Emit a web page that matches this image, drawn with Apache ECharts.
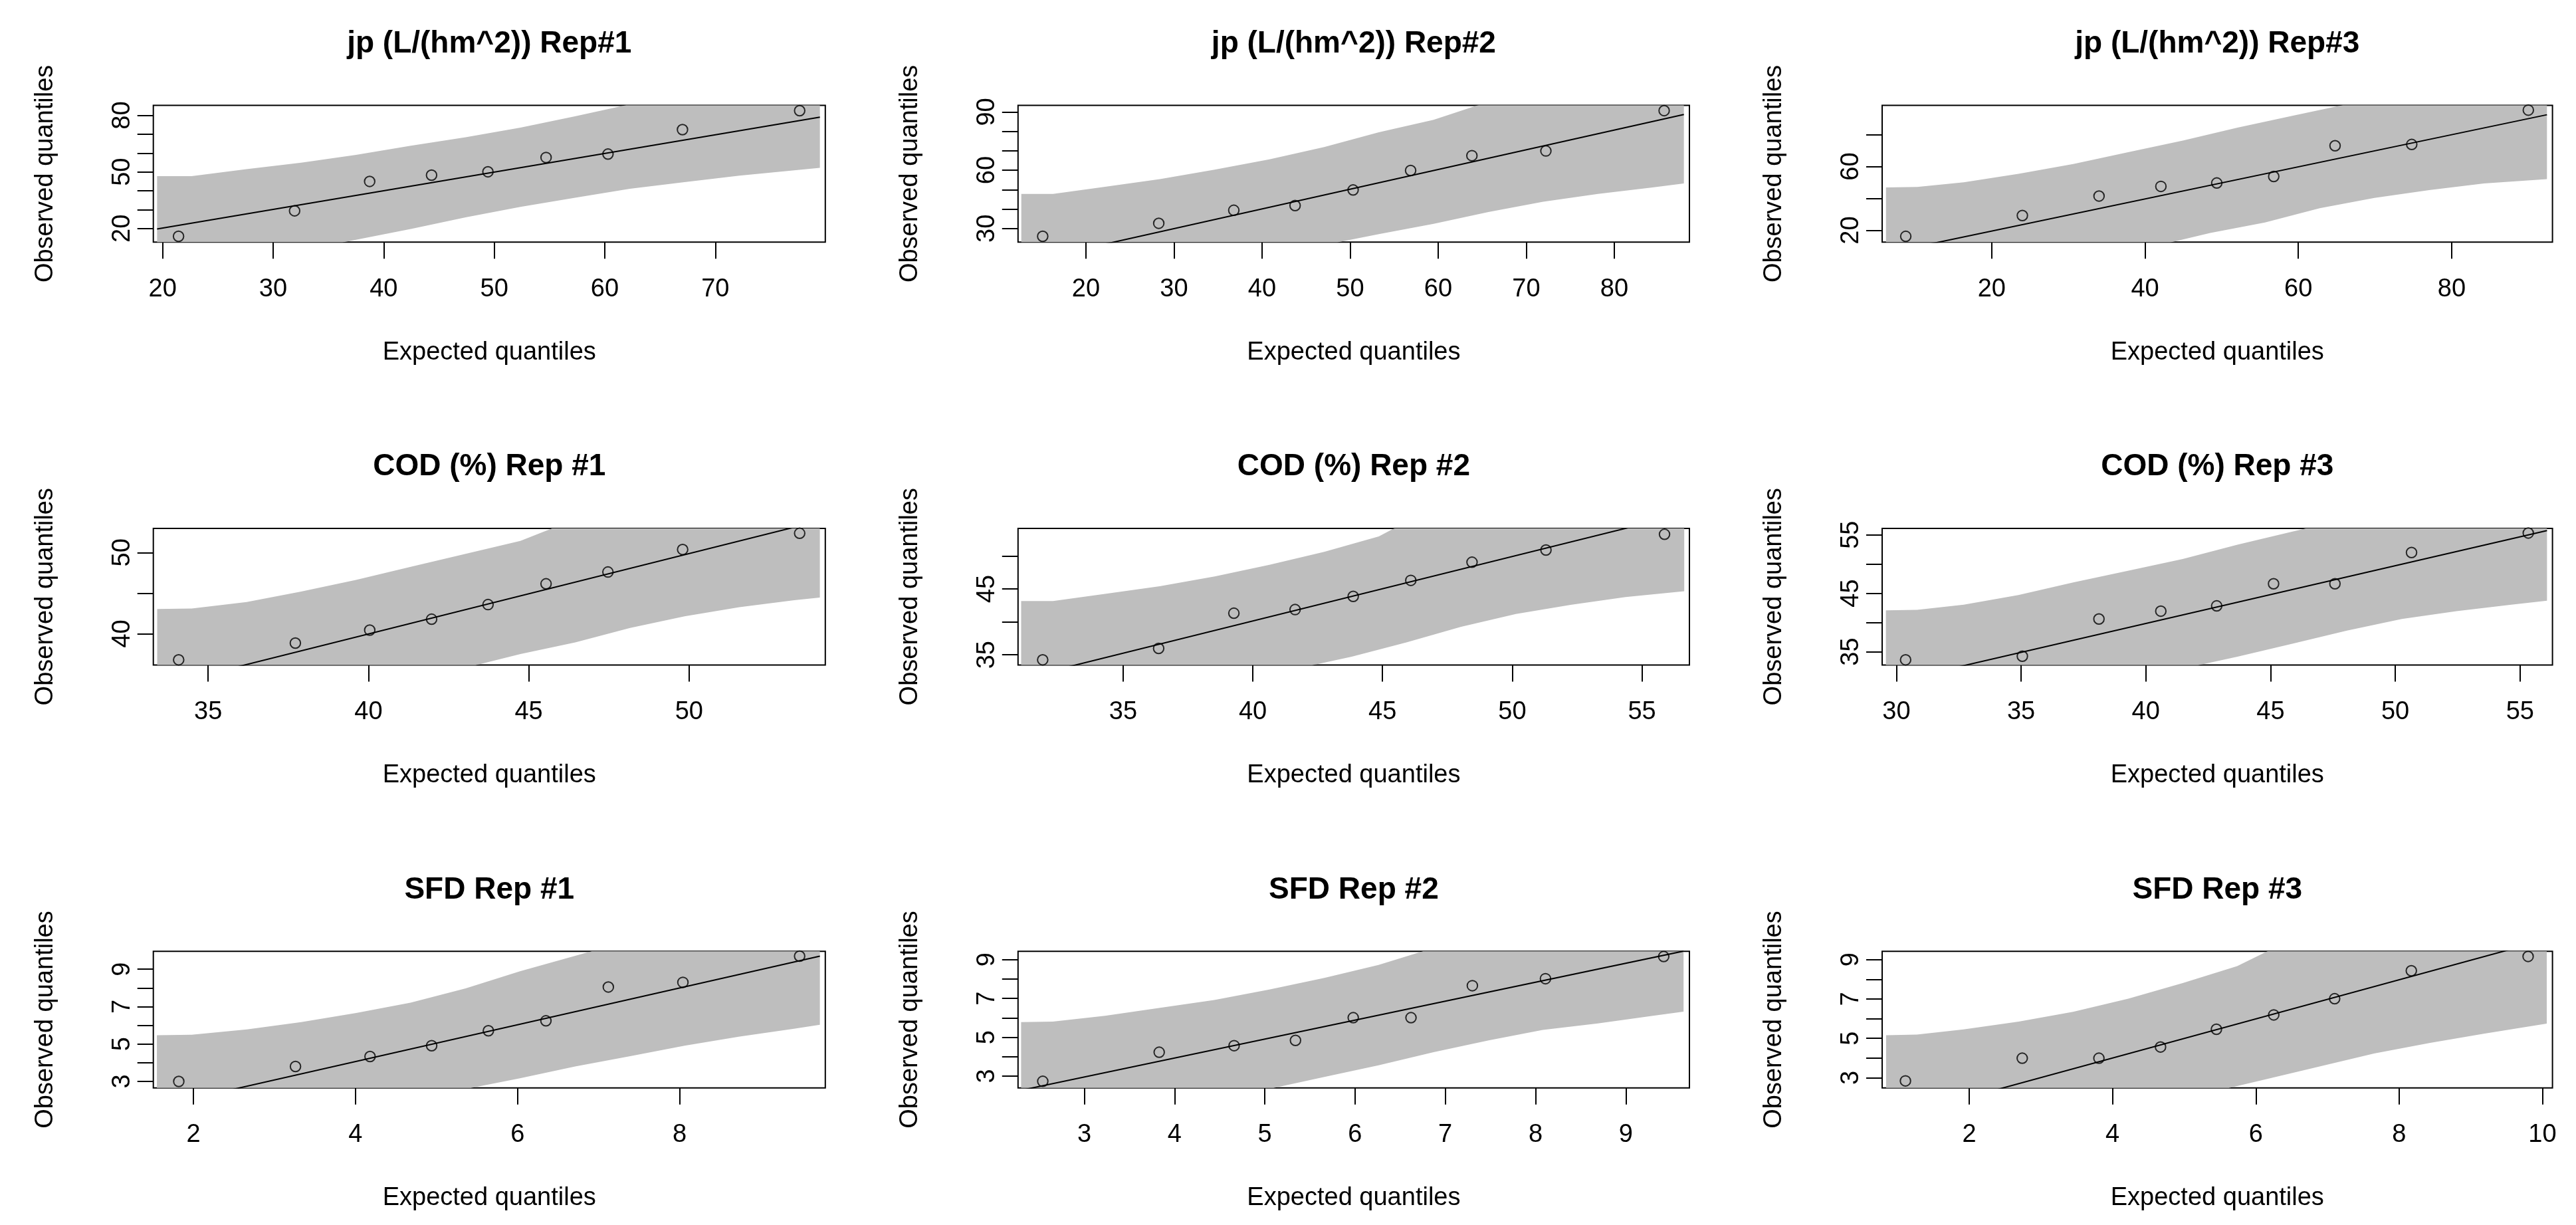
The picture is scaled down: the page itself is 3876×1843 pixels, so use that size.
<!DOCTYPE html>
<html>
<head>
<meta charset="utf-8">
<script src="https://cdn.jsdelivr.net/npm/echarts@6/dist/echarts.min.js"></script>
<style>
html,body{margin:0;padding:0;background:#ffffff;}
#chart{width:3876px;height:1843px;}
</style>
</head>
<body>
<div id="chart"></div>
<script>
// ---------------- DATA ----------------
const titles = [
  "jp (L/(hm^2)) Rep#1", "jp (L/(hm^2)) Rep#2", "jp (L/(hm^2)) Rep#3",
  "COD (%) Rep #1", "COD (%) Rep #2", "COD (%) Rep #3",
  "SFD Rep #1", "SFD Rep #2", "SFD Rep #3"
];
const xAxisTitle = "Expected quantiles";
const yAxisTitle = "Observed quantiles";

// expected quantiles (x) per panel
const expected = [
  [21.44, 31.94, 38.73, 44.33, 49.43, 54.69, 60.29, 67.03, 77.63],
  [15.09, 28.27, 36.79, 43.75, 50.34, 56.87, 63.83, 72.23, 85.66],
  [8.79, 24.0, 34.0, 42.07, 49.36, 56.79, 64.79, 74.79, 90.0],
  [34.08, 37.72, 40.04, 41.97, 43.73, 45.54, 47.47, 49.8, 53.45],
  [31.9, 36.37, 39.27, 41.63, 43.87, 46.09, 48.45, 51.3, 55.87],
  [30.37, 35.05, 38.12, 40.6, 42.84, 45.12, 47.58, 50.65, 55.33],
  [1.82, 3.26, 4.18, 4.94, 5.64, 6.35, 7.12, 8.04, 9.48],
  [2.54, 3.83, 4.66, 5.34, 5.98, 6.62, 7.3, 8.11, 9.42],
  [1.11, 2.74, 3.81, 4.67, 5.45, 6.25, 7.1, 8.17, 9.8]
];
// observed quantiles (y) per panel
const observed = [
  [15.86, 29.38, 44.97, 48.28, 50.07, 57.66, 59.45, 72.41, 82.48],
  [25.98, 32.68, 39.37, 41.79, 49.82, 59.86, 67.5, 69.91, 90.67],
  [16.25, 29.29, 41.52, 47.56, 49.67, 53.75, 72.99, 73.81, 95.33],
  [36.79, 38.85, 40.45, 41.79, 43.59, 46.15, 47.6, 50.38, 52.37],
  [34.25, 35.98, 41.31, 41.86, 43.86, 46.29, 49.04, 50.88, 53.27],
  [33.62, 34.24, 40.61, 41.95, 42.84, 46.63, 46.63, 51.97, 55.31],
  [3.0, 3.8, 4.33, 4.91, 5.71, 6.24, 8.05, 8.3, 9.7],
  [2.73, 4.23, 4.57, 4.84, 6.01, 6.01, 7.66, 8.02, 9.16],
  [2.84, 3.99, 3.99, 4.56, 5.46, 6.19, 7.01, 8.43, 9.16]
];
// reference line end points [x0, x1] and [y0, y1]
const refLineX = [
  [19.5, 79.46], [12.66, 87.9], [6.21, 92.43],
  [33.41, 54.08], [31.07, 56.63], [29.58, 56.08],
  [1.55, 9.73], [2.3, 9.64], [0.84, 10.06]
];
const refLineY = [
  [19.72, 79.03], [12.32, 88.68], [5.69, 92.42],
  [33.45, 53.91], [31.41, 56.38], [29.54, 55.72],
  [1.65, 9.7], [2.27, 9.44], [0.86, 10.02]
];
// confidence envelope: upper edge (left to right) and lower edge (left to right)
const bandUpper = [
  [[19.5,47.72],[22.63,47.72],[27.58,51.45],[32.54,54.9],[37.5,59.03],[42.45,63.86],[47.41,68.41],[52.37,73.52],[57.3,79.45],[61.77,85.24],[79.46,107]],
  [[12.66,47.81],[16.27,47.81],[22.18,51.43],[28.39,55.44],[34.61,60.27],[40.83,65.62],[47.05,71.92],[53.26,79.55],[59.48,85.98],[64.46,93.35],[87.9,124]],
  [[6.21,46.9],[10.29,47.23],[16.36,50.16],[23.5,55.38],[30.64,61.58],[37.79,68.92],[44.93,76.25],[52.07,84.4],[59.21,91.74],[65.64,98.26],[92.43,133]],
  [[33.41,43.04],[34.49,43.11],[36.2,43.91],[37.9,45.19],[39.61,46.63],[41.32,48.24],[43.03,49.84],[44.74,51.44],[45.73,52.98],[54.08,63.5]],
  [[31.07,43.16],[32.3,43.16],[34.3,44.25],[36.41,45.39],[38.53,46.88],[40.64,48.65],[42.75,50.61],[44.86,52.96],[45.39,54.06],[56.63,68.1]],
  [[29.58,42.08],[30.83,42.17],[32.7,43.06],[34.89,44.71],[37.09,46.85],[39.28,48.85],[41.48,50.86],[43.67,53.31],[46.42,56.11],[56.08,68.2]],
  [[1.55,5.47],[1.98,5.5],[2.66,5.78],[3.33,6.17],[4.01,6.66],[4.68,7.21],[5.36,7.98],[6.03,8.89],[6.91,9.96],[9.73,13.5]],
  [[2.3,5.78],[2.65,5.81],[3.23,6.11],[3.84,6.52],[4.44,6.92],[5.05,7.46],[5.66,8.06],[6.26,8.73],[6.75,9.43],[9.64,12.9]],
  [[0.84,5.16],[1.27,5.19],[1.92,5.45],[2.69,5.85],[3.45,6.35],[4.22,7.01],[4.98,7.81],[5.74,8.67],[6.16,9.42],[10.06,14.3]]
];
const bandLower = [
  [[19.5,-8],[36.5,12.83],[42.45,19.72],[47.41,25.93],[52.37,31.45],[57.31,36.28],[62.27,41.1],[67.22,44.55],[72.18,48.0],[79.46,52.14]],
  [[12.66,-23],[48.79,23.04],[53.26,27.05],[59.48,32.41],[65.7,38.44],[71.92,43.79],[78.14,47.81],[84.35,51.16],[87.9,53.17]],
  [[6.21,-35],[43.5,12.66],[48.5,18.37],[55.64,24.89],[62.79,33.86],[69.93,40.38],[77.07,45.27],[84.21,49.35],[92.43,52.12]],
  [[33.41,23.9],[43.37,36.15],[44.74,37.5],[46.45,38.94],[48.16,40.71],[49.86,42.15],[51.57,43.27],[53.28,44.13],[54.08,44.46]],
  [[31.07,19.7],[42.33,33.47],[43.81,34.73],[45.92,36.88],[48.03,39.24],[50.14,41.2],[52.25,42.57],[54.37,43.75],[56.63,44.65]],
  [[29.58,17.0],[42.14,32.73],[43.67,34.15],[45.87,36.38],[48.06,38.61],[50.26,40.61],[52.45,41.95],[54.65,43.06],[56.08,43.73]],
  [[1.55,-2.2],[5.43,2.65],[6.03,3.17],[6.71,3.8],[7.39,4.35],[8.06,4.91],[8.74,5.4],[9.41,5.82],[9.73,6.03]],
  [[2.3,-1.2],[5.11,2.4],[5.66,2.96],[6.26,3.56],[6.87,4.23],[7.48,4.84],[8.08,5.38],[8.69,5.71],[9.3,6.11],[9.64,6.32]],
  [[0.84,-3.4],[5.63,2.48],[6.13,2.91],[6.89,3.57],[7.65,4.23],[8.42,4.76],[9.18,5.23],[10.06,5.75]]
];
// axis ranges
const xMin = [19.16, 12.29, 5.71, 33.29, 30.95, 29.43, 1.506, 2.266, 0.785];
const xMax = [79.95, 88.53, 93.15, 54.25, 56.83, 56.3, 9.797, 9.705, 10.14];
const yMin = [12.8, 23.0, 12.67, 36.15, 33.46, 32.73, 2.65, 2.39, 2.48];
const yMax = [85.25, 93.35, 98.26, 52.98, 54.17, 56.11, 9.96, 9.43, 9.42];
// tick positions and labelled ticks
const xTicks = [
  [20,30,40,50,60,70], [20,30,40,50,60,70,80], [20,40,60,80],
  [35,40,45,50], [35,40,45,50,55], [30,35,40,45,50,55],
  [2,4,6,8], [3,4,5,6,7,8,9], [2,4,6,8,10]
];
const xTickLabels = xTicks;
const yTicks = [
  [20,30,40,50,60,70,80], [30,40,50,60,70,80,90], [20,40,60,80],
  [40,45,50], [35,40,45,50], [35,40,45,50,55],
  [3,4,5,6,7,8,9], [3,4,5,6,7,8,9], [3,4,5,6,7,8,9]
];
const yTickLabels = [
  [20,50,80], [30,60,90], [20,60],
  [40,50], [35,45], [35,45,55],
  [3,5,7,9], [3,5,7,9], [3,5,7,9]
];

// ---------------- LAYOUT ----------------
const colLeft = [230.7, 1531.8, 2832];
const colWidth = [1011.1, 1010.2, 1008.6];
const rowTop = [158.6, 794.9, 1431.2];
const rowHeight = 205.6;
const titleTop = [43.5, 679.8, 1316.1];
const FONT = "'Liberation Sans', Arial, Helvetica, sans-serif";

const grids = [], xAxes = [], yAxes = [], titleOpts = [], series = [];
for (let i = 0; i < 9; i++) {
  const r = Math.floor(i / 3), c = i % 3;
  grids.push({
    left: colLeft[c], top: rowTop[r], width: colWidth[c], height: rowHeight,
    show: true, borderColor: '#000', borderWidth: 2, backgroundColor: 'rgba(0,0,0,0)',
    containLabel: false
  });
  titleOpts.push({
    text: titles[i], left: colLeft[c] + colWidth[c] / 2, top: titleTop[r],
    textAlign: 'center', padding: 0,
    textStyle: { fontSize: 46, fontWeight: 'bold', fontFamily: FONT, color: '#000' }
  });
  xAxes.push({
    gridIndex: i, type: 'value', min: xMin[i], max: xMax[i],
    axisLine: { show: false }, splitLine: { show: false },
    axisTick: { show: true, customValues: xTicks[i], length: 25, inside: false,
      lineStyle: { color: '#000', width: 2 } },
    axisLabel: { customValues: xTickLabels[i], margin: 52, color: '#000', fontSize: 38, fontFamily: FONT },
    name: xAxisTitle, nameLocation: 'middle', nameGap: 147,
    nameTextStyle: { color: '#000', fontSize: 38, fontFamily: FONT }
  });
  yAxes.push({
    gridIndex: i, type: 'value', min: yMin[i], max: yMax[i],
    axisLine: { show: false }, splitLine: { show: false },
    axisTick: { show: true, customValues: yTicks[i], length: 24, inside: false,
      lineStyle: { color: '#000', width: 2 } },
    axisLabel: { customValues: yTickLabels[i], rotate: 90, margin: 27, color: '#000', fontSize: 38, fontFamily: FONT },
    name: yAxisTitle, nameLocation: 'middle', nameGap: 143, nameRotate: 90,
    nameTextStyle: { color: '#000', fontSize: 38, fontFamily: FONT }
  });
  const upper = bandUpper[i], lower = bandLower[i];
  series.push({
    type: 'custom', xAxisIndex: i, yAxisIndex: i, clip: true, silent: true, z: 1,
    data: [upper[0]],
    renderItem: function (params, api) {
      const poly = upper.concat(lower.slice().reverse()).map(p => api.coord(p));
      return { type: 'polygon', shape: { points: poly }, style: { fill: '#BEBEBE', stroke: null } };
    }
  });
  series.push({
    type: 'line', xAxisIndex: i, yAxisIndex: i, clip: true, silent: true, z: 2,
    symbol: 'none',
    data: refLineX[i].map((x, k) => [x, refLineY[i][k]]),
    lineStyle: { color: '#000', width: 2 }
  });
  series.push({
    type: 'scatter', xAxisIndex: i, yAxisIndex: i, silent: true, z: 3,
    symbol: 'circle', symbolSize: 15.5,
    data: expected[i].map((x, k) => [x, observed[i][k]]),
    itemStyle: { color: 'rgba(0,0,0,0)', borderColor: '#000', borderWidth: 2 }
  });
}

const chart = echarts.init(document.getElementById('chart'), null, { renderer: 'canvas' });
chart.setOption({
  backgroundColor: '#ffffff',
  animation: false,
  title: titleOpts,
  grid: grids,
  xAxis: xAxes,
  yAxis: yAxes,
  series: series
});
</script>
</body>
</html>
